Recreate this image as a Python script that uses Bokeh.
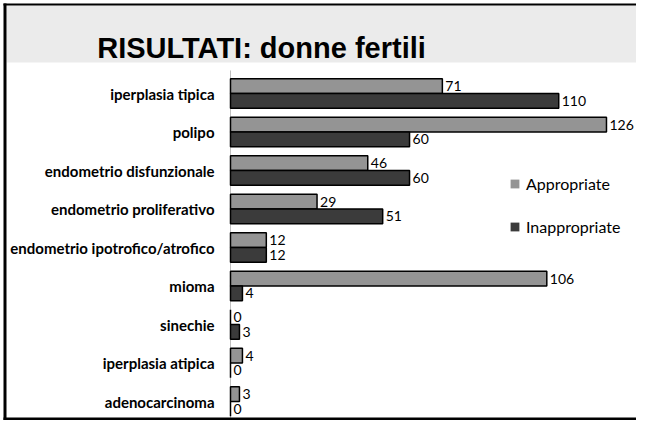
from bokeh.plotting import figure
from bokeh.models import (Range1d, Label, BoxAnnotation, Legend, LegendItem, ColumnDataSource)
from bokeh.core.properties import value
from bokeh.embed import file_html
from bokeh.resources import INLINE

categories = ["iperplasia tipica", "polipo", "endometrio disfunzionale",
              "endometrio proliferativo", "endometrio ipotrofico/atrofico",
              "mioma", "sinechie", "iperplasia atipica", "adenocarcinoma"]
appropriate = [71, 126, 46, 29, 12, 106, 0, 4, 3]
inappropriate = [110, 60, 60, 51, 12, 4, 3, 0, 0]
series_names = ["Appropriate", "Inappropriate"]
series_colors = ["#949494", "#3b3b3b"]
title_text = "RISULTATI: donne fertili"

W, H = 636, 420
bar_h = 0.38
off = 0.19

idx = list(range(len(categories)))
src = ColumnDataSource(dict(
    y_cat=idx, zero=[0] * len(idx), cat=categories,
    y_app=[i - off for i in idx], y_inapp=[i + off for i in idx],
    app=appropriate, inapp=inappropriate,
    app_lbl=[str(v) for v in appropriate], inapp_lbl=[str(v) for v in inappropriate]))

# frame fills the whole canvas; 0 of the value axis sits at x=230 px
p = figure(width=W, height=H, output_backend="svg", toolbar_location=None,
           x_range=Range1d(-77.08, 136.06), y_range=Range1d(8.4935, -2.4156),
           min_border=0, background_fill_color="white", border_fill_color="white")
p.outline_line_color = None
p.grid.visible = False
p.axis.visible = False

def screen_box(l, r, t, b, **kw):
    return BoxAnnotation(left=l, right=r, top=t, bottom=b,
                         left_units="screen", right_units="screen",
                         top_units="screen", bottom_units="screen", **kw)

# title band
p.add_layout(screen_box(6, W + 20, H - 5, H - 62, fill_color="#ebebeb", fill_alpha=1,
                        line_color=None, level="underlay"))

# category axis line
p.add_layout(BoxAnnotation(left=0, right=0, top=H - 70, bottom=0,
                           left_units="data", right_units="data",
                           top_units="screen", bottom_units="screen",
                           fill_alpha=0, line_color="#868686", line_width=1, level="underlay"))

p.hbar(y="y_app", right="app", left=0, height=bar_h, source=src,
       fill_color=series_colors[0], line_color="black", line_width=1.5)
p.hbar(y="y_inapp", right="inapp", left=0, height=bar_h, source=src,
       fill_color=series_colors[1], line_color="black", line_width=1.5)

for xcol, ycol, lcol in [("app", "y_app", "app_lbl"), ("inapp", "y_inapp", "inapp_lbl")]:
    p.text(x=xcol, y=ycol, text=lcol, source=src, x_offset=3,
           text_align="left", text_baseline="middle",
           text_font=value("Lato"), text_font_size="14px", text_color="black")

# category labels
p.text(x="zero", y="y_cat", text="cat", source=src, x_offset=-16,
       text_align="right", text_baseline="middle",
       text_font=value("Lato"), text_font_style="bold", text_font_size="15px", text_color="black")

# legend-only renderers (zero height, nothing drawn in plot)
r1 = p.hbar(y="y_app", right="app", height=0, source=src, fill_color=series_colors[0], line_color=None)
r2 = p.hbar(y="y_inapp", right="inapp", height=0, source=src, fill_color=series_colors[1], line_color=None)
leg = Legend(items=[LegendItem(label=series_names[0], renderers=[r1]),
                    LegendItem(label=series_names[1], renderers=[r2])],
             location=(509, H - 236), orientation="vertical",
             glyph_width=11, glyph_height=11, label_height=20, spacing=23,
             padding=0, margin=0, label_standoff=6,
             border_line_color=None, background_fill_alpha=0,
             label_text_font="Lato", label_text_font_size="16px", label_text_color="black")
p.add_layout(leg, "center")

# slide borders
for l, r, t, b in [(3, 6, H - 3, 0),
                   (3, W + 20, H - 3, H - 5),
                   (3, W + 20, 3, 0)]:
    p.add_layout(screen_box(l, r, t, b, fill_color="black", fill_alpha=1, line_color=None,
                            level="overlay"))

p.add_layout(Label(x=261, y=H - 47, x_units="screen", y_units="screen",
                   text=title_text, text_align="center", text_baseline="alphabetic",
                   text_font="Liberation Sans", text_font_style="bold", text_font_size="29px",
                   text_color="black"))

open("out.html", "w").write(file_html(p, INLINE))
